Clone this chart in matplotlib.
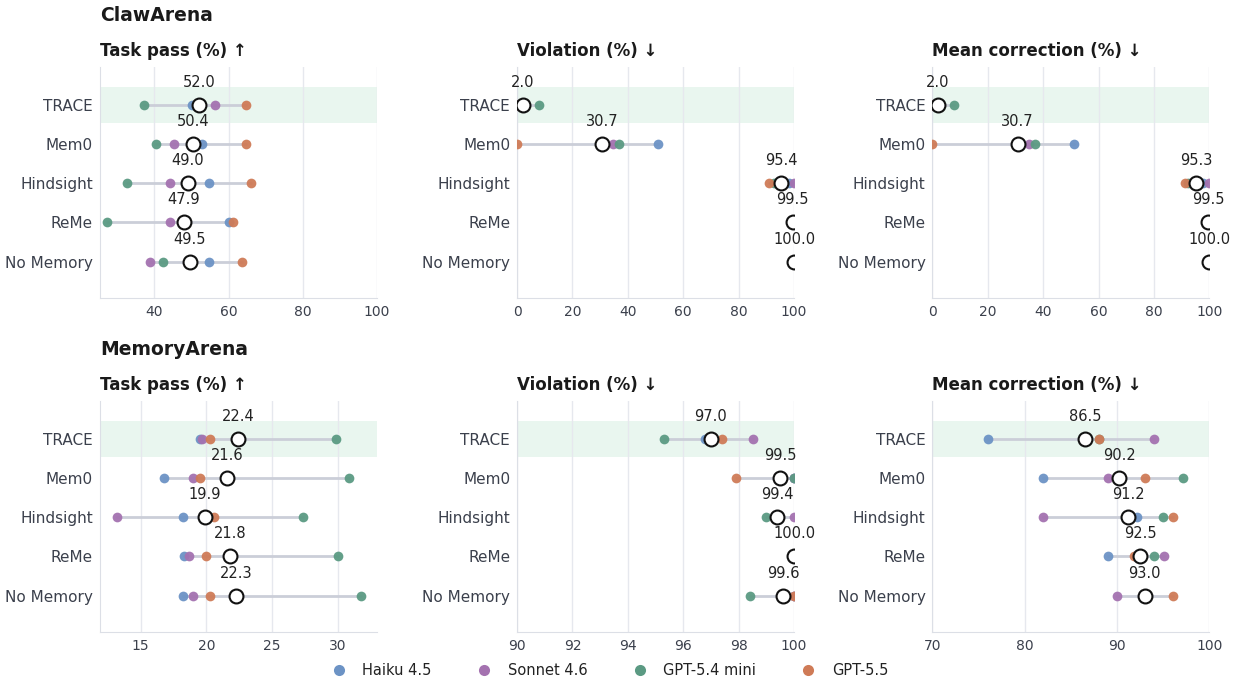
import matplotlib.pyplot as plt
from matplotlib.lines import Line2D

methods = ["TRACE", "Mem0", "Hindsight", "ReMe", "No Memory"]
models = ["Haiku 4.5", "Sonnet 4.6", "GPT-5.4 mini", "GPT-5.5"]
colors = ["#6c93c5", "#a472b0", "#5b9a83", "#cf7b57"]

# per-model scores, rows follow `methods`, columns follow `models`
claw_pass = [[50.0, 56.2, 37.1, 64.7],
             [52.8, 45.3, 40.4, 64.7],
             [54.6, 44.3, 32.5, 65.9],
             [60.1, 44.3, 27.1, 61.3],
             [54.7, 38.8, 42.2, 63.6]]
claw_pass_mean = [52.0, 50.4, 49.0, 47.9, 49.5]

claw_viol = [[0.0, 0.0, 7.8, 0.0],
             [51.0, 34.6, 36.8, 0.0],
             [98.0, 100.0, 92.6, 91.0],
             [100.0, 100.0, 99.0, 99.0],
             [100.0, 100.0, 100.0, 100.0]]
claw_viol_mean = [2.0, 30.7, 95.4, 99.5, 100.0]

claw_corr = [[0.0, 0.0, 7.9, 0.0],
             [51.1, 34.8, 37.1, 0.0],
             [97.8, 100.0, 92.4, 91.1],
             [100.0, 100.0, 99.0, 99.0],
             [100.0, 100.0, 100.0, 100.0]]
claw_corr_mean = [2.0, 30.7, 95.3, 99.5, 100.0]

mem_pass = [[19.55, 19.7, 29.9, 20.3],
            [16.8, 19.0, 30.9, 19.5],
            [18.2, 13.2, 27.4, 20.6],
            [18.3, 18.65, 30.0, 20.0],
            [18.2, 19.0, 31.8, 20.25]]
mem_pass_mean = [22.4, 21.6, 19.9, 21.8, 22.3]

mem_viol = [[96.8, 98.5, 95.3, 97.4],
            [100.0, 100.0, 100.0, 97.9],
            [99.3, 100.0, 99.0, 99.3],
            [100.0, 100.0, 100.0, 100.0],
            [100.0, 100.0, 98.4, 100.0]]
mem_viol_mean = [97.0, 99.5, 99.4, 100.0, 99.6]

mem_corr = [[76.0, 94.0, 88.0, 88.0],
            [82.0, 89.0, 97.1, 93.0],
            [92.1, 82.0, 95.0, 96.1],
            [89.0, 95.1, 94.0, 91.8],
            [93.0, 90.0, 92.9, 96.1]]
mem_corr_mean = [86.5, 90.2, 91.2, 92.5, 93.0]

panels = [
    ("Task pass (%) ↑", claw_pass, claw_pass_mean, (25.3, 100), [40, 60, 80, 100]),
    ("Violation (%) ↓", claw_viol, claw_viol_mean, (0, 100), [0, 20, 40, 60, 80, 100]),
    ("Mean correction (%) ↓", claw_corr, claw_corr_mean, (0, 100), [0, 20, 40, 60, 80, 100]),
    ("Task pass (%) ↑", mem_pass, mem_pass_mean, (11.9, 33.0), [15, 20, 25, 30]),
    ("Violation (%) ↓", mem_viol, mem_viol_mean, (90, 100), [90, 92, 94, 96, 98, 100]),
    ("Mean correction (%) ↓", mem_corr, mem_corr_mean, (70, 100), [70, 80, 90, 100]),
]

fig = plt.figure(figsize=(12.4, 6.82), dpi=100)
lefts = [0.0806, 0.417, 0.752]
bottoms = [0.563, 0.0733]
w, h = 0.2234, 0.3387

text_col = "#3b404c"
for k, (title, vals, means, xlim, ticks) in enumerate(panels):
    ax = fig.add_axes([lefts[k % 3], bottoms[k // 3], w, h])
    ax.axhspan(-0.46, 0.46, color="#e9f6ef", zorder=0, lw=0)
    for i, row in enumerate(vals):
        ax.plot([min(row), max(row)], [i, i], color="#cbced8", lw=2.0,
                solid_capstyle="round", zorder=2)
        for j, v in enumerate(row):
            ax.plot(v, i, "o", color=colors[j], ms=7, mec="none", alpha=0.95, zorder=3)
        ax.plot(means[i], i, "o", ms=10, mfc="white", mec="#111111", mew=1.5, zorder=4)
        ax.annotate(f"{means[i]:.1f}", (means[i], i), xytext=(0, 13),
                    textcoords="offset points", ha="center", va="baseline",
                    fontsize=10.5, color="#222222", annotation_clip=False)
    ax.set_xlim(*xlim)
    ax.set_ylim(4.93, -0.97)
    ax.set_xticks(ticks)
    ax.set_yticks(range(len(methods)))
    ax.set_yticklabels(methods)
    ax.tick_params(axis="both", length=0, colors=text_col)
    ax.tick_params(axis="y", labelsize=11, pad=5)
    ax.tick_params(axis="x", labelsize=10, pad=5)
    ax.grid(axis="x", color="#e6e8ee", lw=1)
    ax.set_axisbelow(True)
    for s in ["top", "right"]:
        ax.spines[s].set_visible(False)
    for s in ["left", "bottom"]:
        ax.spines[s].set_color("#dcdfe6")
    ax.set_title(title, loc="left", fontsize=12, fontweight="bold",
                 color="#1a1a1a", pad=8)

fig.text(0.0806, 0.977, "ClawArena", fontsize=13.5, fontweight="bold",
         color="#1a1a1a", va="center")
fig.text(0.0806, 0.487, "MemoryArena", fontsize=13.5, fontweight="bold",
         color="#1a1a1a", va="center")

handles = [Line2D([], [], ls="", marker="o", ms=8, color=c, mec="none") for c in colors]
fig.legend(handles, models, loc="lower center", bbox_to_anchor=(0.489, -0.014),
           ncol=4, frameon=False, fontsize=10.5, columnspacing=2.6,
           handletextpad=0.6, labelcolor="#222222")

fig.savefig("out.png", dpi=100)
